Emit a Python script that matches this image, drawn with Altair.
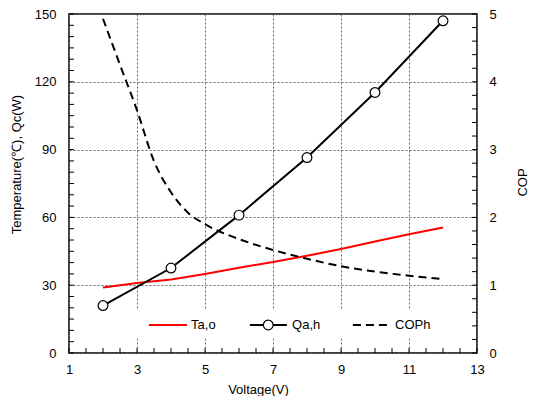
import altair as alt
import pandas as pd

# ---- data ----
voltage_q = [2, 4, 6, 8, 10, 12]
qa_h = [21.0, 37.6, 61.0, 86.5, 115.3, 147.0]

voltage_t = [2, 3, 4, 5, 6, 7, 8, 9, 10, 11, 12]
ta_o = [29.0, 31.0, 32.5, 35.0, 37.7, 40.3, 43.0, 46.0, 49.3, 52.5, 55.5]

voltage_c = [2, 2.5, 3, 3.5, 4, 4.5, 5, 6, 7, 8, 9, 10, 11, 12]
cop_h = [4.93, 4.25, 3.58, 2.83, 2.37, 2.07, 1.90, 1.68, 1.52, 1.39, 1.28, 1.20, 1.14, 1.09]

x_ticks = [1, 3, 5, 7, 9, 11, 13]
left_ticks = [0, 30, 60, 90, 120, 150]
right_ticks = [0, 1, 2, 3, 4, 5]
x_minor = [1 + 0.5 * i for i in range(25)]
left_minor = [5 * i for i in range(31)]
right_minor = [round(0.2 * i, 1) for i in range(26)]

series_names = ["Ta,o", "Qa,h", "COPh"]

# ---- layout / style ----
W, H = 408, 339
FONT = "Liberation Sans"
FS = 13

xscale = alt.Scale(domain=[1, 13], nice=False, zero=False)
yl = alt.Scale(domain=[0, 150], nice=False)
yr = alt.Scale(domain=[0, 5], nice=False)

common = dict(labelFont=FONT, labelFontSize=FS, labelColor="black",
              titleFont=FONT, titleFontSize=FS, titleFontWeight="normal",
              titleColor="black", ticks=False, domain=False,
              labelFlush=False, labelOverlap=False)

x_axis = alt.Axis(values=x_ticks, title="Voltage(V)", grid=True,
                  gridDash=[2, 2], gridColor="#666666", gridWidth=1,
                  labelPadding=10, titleX=189, titleY=36,
                  titleAlign="center", titleBaseline="middle", **common)
yl_axis = alt.Axis(values=left_ticks, title="Temperature(\u2103), Qc(W)", grid=True,
                   gridDash=[2, 2], gridColor="#666666", gridWidth=1,
                   labelPadding=13, titleAngle=270, titleX=-53, titleY=150,
                   titleAlign="center", titleBaseline="middle", **common)
yr_axis = alt.Axis(orient="right", values=right_ticks, title="COP", grid=False,
                   labelPadding=12, titleAngle=270, titleX=45, titleY=168,
                   titleAlign="center", titleBaseline="middle", **common)


def X(field):
    return alt.X(field, scale=xscale, axis=x_axis)


def YL(field):
    return alt.Y(field, scale=yl, axis=yl_axis)


def YR(field):
    return alt.Y(field, scale=yr, axis=yr_axis)


df_t = pd.DataFrame({"V": voltage_t, "T": ta_o})
df_q = pd.DataFrame({"V": voltage_q, "Q": qa_h})
df_c = pd.DataFrame({"V": voltage_c, "C": cop_h})

ta_line = alt.Chart(df_t).mark_line(color="#ff0000", strokeWidth=2).encode(
    x=X("V:Q"), y=YL("T:Q"))
qa_line = alt.Chart(df_q).mark_line(color="black", strokeWidth=2).encode(
    x=X("V:Q"), y=YL("Q:Q"))
qa_pts = alt.Chart(df_q).mark_circle(size=95, fill="white", stroke="black",
                                     strokeWidth=1.2, opacity=1).encode(
    x=X("V:Q"), y=YL("Q:Q"))

lticks = alt.Chart(pd.DataFrame({"v": left_minor})).mark_rule(color="black", strokeWidth=1).encode(
    y=YL("v:Q"), x=alt.value(0), x2=alt.value(5))
xticks = alt.Chart(pd.DataFrame({"v": x_minor})).mark_rule(color="black", strokeWidth=1).encode(
    x=X("v:Q"), y=alt.value(H - 5), y2=alt.value(H))

# legend (drawn inside the plot, in data coordinates)
leg_box = alt.Chart(pd.DataFrame({"a": [2.8], "b": [11.5], "c": [6.5], "d": [19.5]})).mark_rect(
    fill="white", opacity=1).encode(
    x=X("a:Q"), x2="b:Q", y=YL("c:Q"), y2="d:Q")
LY = 12.4
leg_red = alt.Chart(pd.DataFrame({"a": [3.35], "b": [4.47], "y": [LY]})).mark_rule(
    color="#ff0000", strokeWidth=2).encode(x=X("a:Q"), x2="b:Q", y=YL("y:Q"))
leg_blk = alt.Chart(pd.DataFrame({"a": [6.32], "b": [7.41], "y": [LY]})).mark_rule(
    color="black", strokeWidth=2).encode(x=X("a:Q"), x2="b:Q", y=YL("y:Q"))
leg_pt = alt.Chart(pd.DataFrame({"a": [6.86], "y": [LY]})).mark_circle(
    size=95, fill="white", stroke="black", strokeWidth=1.2, opacity=1).encode(
    x=X("a:Q"), y=YL("y:Q"))
leg_dash = alt.Chart(pd.DataFrame({"a": [9.35], "b": [10.35], "y": [LY]})).mark_rule(
    color="black", strokeWidth=2, strokeDash=[8, 5]).encode(x=X("a:Q"), x2="b:Q", y=YL("y:Q"))
leg_txt = alt.Chart(pd.DataFrame({"a": [4.59, 7.56, 10.59], "y": [LY] * 3, "t": series_names})).mark_text(
    align="left", baseline="middle", font=FONT, fontSize=FS, color="black").encode(
    x=X("a:Q"), y=YL("y:Q"), text="t:N")

left = alt.layer(ta_line, leg_box, qa_line, qa_pts, lticks, xticks,
                 leg_red, leg_blk, leg_pt, leg_dash, leg_txt)

cop_line = alt.Chart(df_c).mark_line(color="black", strokeWidth=2, strokeDash=[8, 5],
                                     interpolate="monotone").encode(
    x=X("V:Q"), y=YR("C:Q"))
rticks = alt.Chart(pd.DataFrame({"v": right_minor})).mark_rule(color="black", strokeWidth=1).encode(
    y=YR("v:Q"), x=alt.value(W - 5), x2=alt.value(W))

right = alt.layer(cop_line, rticks)

chart = alt.layer(left, right).resolve_scale(y="independent").properties(
    width=W, height=H,
    padding={"left": 61, "top": 6, "right": 52, "bottom": 43},
    autosize=alt.AutoSizeParams(type="none"),
    background="white",
).configure_view(stroke="black", strokeWidth=1.5)

chart.save("out.html", embed_options={"renderer": "svg", "actions": False})
